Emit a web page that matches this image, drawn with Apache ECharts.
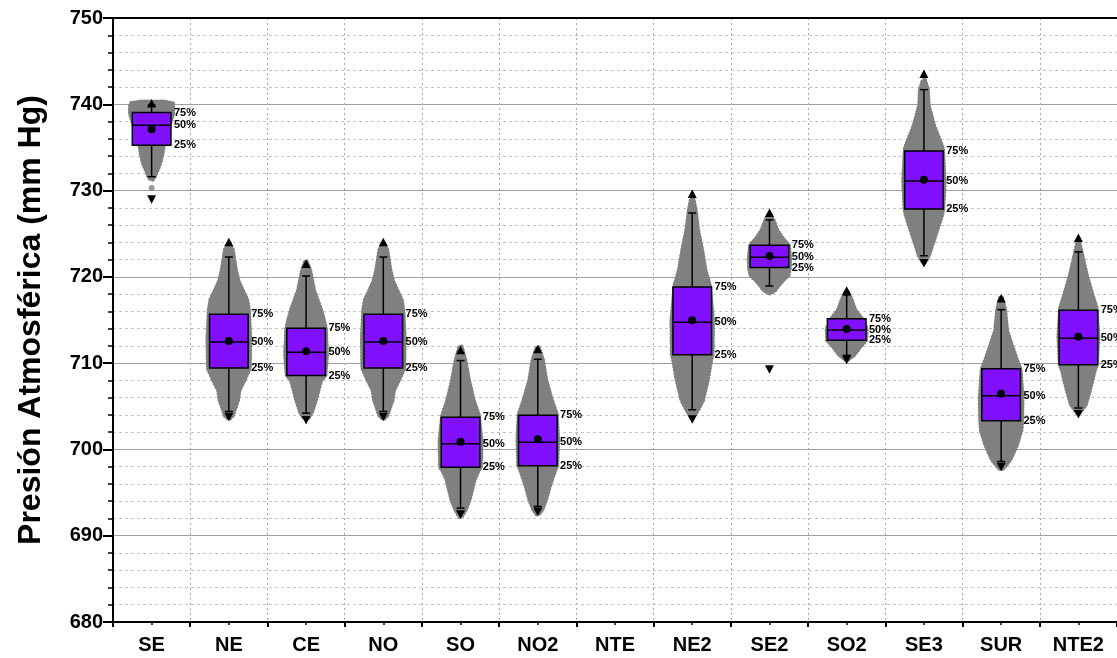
<!DOCTYPE html>
<html><head><meta charset="utf-8">
<script src="https://cdn.jsdelivr.net/npm/echarts@6/dist/echarts.min.js"></script>
<style>html,body{margin:0;padding:0;background:#fff}#c{width:1117px;height:658px}</style>
</head><body><div id="c"></div>
<script>
// ---- data ----
const categories = ['SE','NE','CE','NO','SO','NO2','NTE','NE2','SE2','SO2','SE3','SUR','NTE2'];
const maxVals   = [740.1, 724.0, 721.5, 724.0, 711.5, 711.6, null, 729.6, 727.4, 718.4, 743.5, 717.5, 724.5];
const upperCaps = [739.9, 722.3, 720.1, 722.3, 710.3, 710.45, null, 727.4, 726.6, 717.9, 741.7, 716.2, 722.9];
const q3Vals    = [739.05, 715.66, 714.04, 715.66, 703.73, 703.96, null, 718.83, 723.66, 715.15, 734.6, 709.36, 716.13];
const medians   = [737.56, 712.45, 711.26, 712.45, 700.67, 700.83, null, 714.73, 722.27, 713.84, 731.11, 706.23, 712.88];
const means     = [737.1, 712.57, 711.38, 712.57, 700.9, 701.17, null, 714.96, 722.42, 713.96, 731.26, 706.46, 713.07];
const q1Vals    = [735.24, 709.44, 708.57, 709.44, 697.93, 698.12, null, 710.98, 721.07, 712.65, 727.87, 703.33, 709.82];
const lowerCaps = [731.6, 704.4, 704.2, 704.4, 693.2, 693.4, null, 704.6, 718.94, 710.9, 722.45, 698.6, 704.8];
const minVals   = [729.0, 703.8, 703.4, 703.8, 692.5, 692.8, null, 703.5, 709.3, 710.4, 721.6, 698.0, 704.1];
const extraPoints = [[0, 730.3]];
const yTicks = [680, 690, 700, 710, 720, 730, 740, 750];

// swarm outline: [value, relative spread]
const swarmSE  = [[740.3,0.6],[740.1,1.1],[739.0,1.12],[735.2,0.62],[734.2,0.55],[733.2,0.45],[732.4,0.3],[731.6,0.15],[731.3,0.05]];
const swarmNE  = [[723.8,0.05],[723.1,0.2],[720.8,0.36],[719.5,0.5],[718.5,0.7],[717.3,0.95],[716.2,1.03],[713,1.1],[709.4,1.08],[708.0,0.8],[706.9,0.55],[705.7,0.47],[704.6,0.3],[704.0,0.22],[703.6,0.05]];
const swarmCE  = [[721.7,0.05],[720.8,0.2],[718.5,0.4],[716.2,0.77],[715.0,0.92],[714,1.02],[711,1.08],[708.6,1.0],[708.0,0.77],[706.9,0.64],[705.7,0.5],[704.3,0.3],[703.6,0.1]];
const swarmNO  = [[723.8,0.05],[723.1,0.2],[720.8,0.36],[719.5,0.5],[718.5,0.7],[717.3,0.95],[716.2,1.03],[713,1.1],[709.4,1.08],[708.0,0.8],[706.9,0.55],[705.7,0.47],[704.6,0.3],[704.0,0.22],[703.6,0.05]];
const swarmSO  = [[711.9,0.05],[710.4,0.24],[708.05,0.43],[705.7,0.68],[704.0,0.94],[701,1.08],[697.9,1.05],[697.6,0.94],[696.5,0.72],[694.2,0.47],[693.0,0.26],[692.2,0.05]];
const swarmNO2 = [[711.8,0.05],[710.4,0.26],[708.05,0.43],[705.7,0.73],[704.1,0.98],[701,1.05],[698.1,1.0],[697.6,0.9],[695.9,0.64],[694.2,0.43],[693.0,0.22],[692.5,0.05]];
const swarmNE2 = [[729.1,0.05],[727.75,0.17],[725.4,0.3],[723.1,0.51],[720.8,0.68],[719.1,0.9],[715,1.07],[711,1.05],[710.4,0.98],[708.05,0.8],[705.7,0.55],[704.6,0.3],[703.7,0.05]];
const swarmSE2 = [[727.2,0.05],[726.6,0.2],[725.4,0.4],[724.3,0.73],[723.7,1.0],[722,1.07],[721.0,1.05],[720.2,0.98],[719.6,0.7],[719.1,0.51],[718.5,0.3],[718.1,0.05]];
const swarmSO2 = [[718.25,0.05],[717.3,0.26],[716.2,0.43],[715.2,0.77],[714,1.03],[712.65,1.0],[712.1,0.77],[710.95,0.38],[710.4,0.05]];
const swarmSE3 = [[742.8,0.05],[741.7,0.2],[739.9,0.24],[737.6,0.51],[735.9,0.81],[734.9,0.98],[731,1.07],[727.9,1.0],[727.2,0.94],[725.4,0.68],[723.7,0.43],[722.5,0.26],[721.7,0.05]];
const swarmSUR = [[717.55,0.05],[716.2,0.2],[713.8,0.3],[712.1,0.55],[710.4,0.81],[709.3,1.0],[706,1.1],[703.3,1.08],[702.3,1.05],[700.5,0.81],[698.8,0.47],[697.8,0.1]];
const swarmNTE2= [[723.9,0.05],[722.5,0.2],[720.2,0.43],[717.9,0.73],[716.4,0.94],[713,1.03],[709.8,0.95],[709.2,0.85],[706.9,0.6],[705.2,0.38],[704.2,0.05]];
const swarms = [swarmSE, swarmNE, swarmCE, swarmNO, swarmSO, swarmNO2, null, swarmNE2, swarmSE2, swarmSO2, swarmSE3, swarmSUR, swarmNTE2];

// ---- chart ----
const FONT = "'Liberation Sans', Arial, sans-serif";
const boxRows = categories.map((c, i) => [i, maxVals[i], upperCaps[i], q3Vals[i], medians[i], means[i], q1Vals[i], lowerCaps[i], minVals[i]])
  .filter(r => r[1] != null);
const swarmRows = categories.map((c, i) => [i]).filter(r => swarms[r[0]]);

function renderSwarm(params, api) {
  const i = api.value(0);
  const prof = swarms[i];
  if (!prof) return null;
  const half = api.size([1, 0])[0] * 0.25;
  const right = [], left = [];
  prof.forEach(([v, r]) => {
    const p = api.coord([i, v]);
    right.push([p[0] + r * half, p[1]]);
    left.unshift([p[0] - r * half, p[1]]);
  });
  return {
    type: 'polygon', shape: { points: right.concat(left) },
    style: { fill: '#808080', stroke: '#808080', lineWidth: 4.5, lineDash: [0.1, 3.2], lineCap: 'round' }
  };
}

function renderBox(params, api) {
  const i = api.value(0);
  const half = api.size([1, 0])[0] * 0.25;
  const y = k => api.coord([i, api.value(k)])[1];
  const cx = api.coord([i, api.value(4)])[0];
  const yMax = y(1), yHi = y(2), yQ3 = y(3), yMed = y(4), yMean = y(5), yQ1 = y(6), yLo = y(7), yMin = y(8);
  const black = { stroke: '#000', lineWidth: 1.5 };
  const lbl = (t, yy) => ({ type: 'text', style: { text: t, x: cx + half + 3, y: yy, fill: '#000', font: 'bold 11px ' + FONT, textAlign: 'left', textVerticalAlign: 'middle' } });
  return {
    type: 'group', children: [
      { type: 'line', shape: { x1: cx, y1: yQ3, x2: cx, y2: yHi }, style: black },
      { type: 'line', shape: { x1: cx, y1: yQ1, x2: cx, y2: yLo }, style: black },
      { type: 'line', shape: { x1: cx - 4, y1: yHi, x2: cx + 4, y2: yHi }, style: black },
      { type: 'line', shape: { x1: cx - 4, y1: yLo, x2: cx + 4, y2: yLo }, style: black },
      { type: 'rect', shape: { x: cx - half, y: yQ3, width: 2 * half, height: yQ1 - yQ3 }, style: { fill: '#8010ff', stroke: '#000', lineWidth: 1.5 } },
      { type: 'line', shape: { x1: cx - half, y1: yMed, x2: cx + half, y2: yMed }, style: black },
      { type: 'circle', shape: { cx: cx, cy: yMean, r: 4 }, style: { fill: '#000' } },
      { type: 'polygon', shape: { points: [[cx, yMax - 4.5], [cx - 4.5, yMax + 4], [cx + 4.5, yMax + 4]] }, style: { fill: '#000' } },
      { type: 'polygon', shape: { points: [[cx, yMin + 4.5], [cx - 4.5, yMin - 4], [cx + 4.5, yMin - 4]] }, style: { fill: '#000' } },
      lbl('75%', yQ3), lbl('50%', yMed), lbl('25%', yQ1)
    ]
  };
}

const chart = echarts.init(document.getElementById('c'), null, { renderer: 'canvas' });
chart.setOption({
  backgroundColor: '#fff',
  animation: false,
  grid: { left: 113, top: 18, right: -5, bottom: 36, containLabel: false },
  xAxis: [
    { type: 'category', data: categories, position: 'bottom', boundaryGap: true,
      axisLine: { show: false }, axisTick: { show: false },
      axisLabel: { interval: 0, margin: 13, color: '#000', fontWeight: 'bold', fontSize: 20, fontFamily: FONT },
      splitLine: { show: true, interval: 0, lineStyle: { color: '#a8a8a8', width: 1, type: [2, 3] } } },
    { type: 'value', min: 0, max: 13, interval: 1, position: 'bottom',
      axisLine: { show: true, onZero: false, lineStyle: { color: '#000', width: 2 } },
      axisTick: { show: true, length: 5, lineStyle: { color: '#000', width: 2 } },
      minorTick: { show: true, splitNumber: 2, length: 3, lineStyle: { color: '#000', width: 1.5 } },
      axisLabel: { show: false }, splitLine: { show: false } },
    { type: 'value', min: 0, max: 13, interval: 1, position: 'top',
      axisLine: { show: true, onZero: false, lineStyle: { color: '#000', width: 2 } },
      axisTick: { show: false }, axisLabel: { show: false }, splitLine: { show: false } }
  ],
  yAxis: {
    type: 'value', min: yTicks[0], max: yTicks[yTicks.length - 1], interval: 10,
    name: 'Presión Atmosférica (mm Hg)', nameLocation: 'middle', nameGap: 66,
    nameTextStyle: { color: '#000', fontWeight: 'bold', fontSize: 32, fontFamily: FONT },
    axisLine: { show: true, onZero: false, lineStyle: { color: '#000', width: 2 } },
    axisTick: { show: true, length: 10, lineStyle: { color: '#000', width: 2 } },
    minorTick: { show: true, splitNumber: 5, length: 5, lineStyle: { color: '#000', width: 1.5 } },
    axisLabel: { margin: 10, color: '#000', fontWeight: 'bold', fontSize: 20, fontFamily: FONT },
    splitLine: { show: true, lineStyle: { color: '#a0a0a0', width: 1 } },
    minorSplitLine: { show: true, lineStyle: { color: '#c4c4c4', width: 1, type: [3, 3] } }
  },
  series: [
    { type: 'custom', xAxisIndex: 0, renderItem: renderSwarm, data: swarmRows, encode: { x: 0 }, z: 2, silent: true },
    { type: 'scatter', xAxisIndex: 0, data: extraPoints, symbolSize: 6, itemStyle: { color: '#808080' }, z: 2, silent: true },
    { type: 'custom', xAxisIndex: 0, renderItem: renderBox, data: boxRows, encode: { x: 0, y: [1, 2, 3, 4, 5, 6, 7, 8] }, z: 3, silent: true }
  ]
});
</script></body></html>
